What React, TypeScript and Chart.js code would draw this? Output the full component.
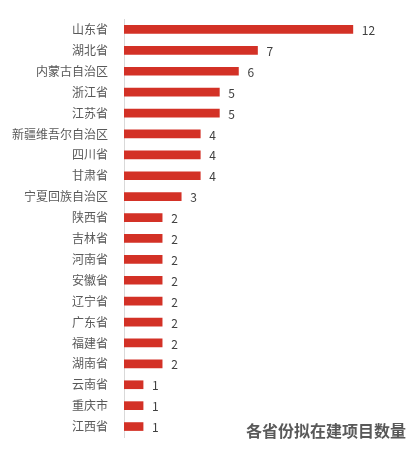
import React, { useEffect, useRef } from "react";
import { Chart, registerables } from "chart.js";

Chart.register(...registerables);

const provinces = [
  "山东省", "湖北省", "内蒙古自治区", "浙江省", "江苏省", "新疆维吾尔自治区", "四川省", "甘肃省",
  "宁夏回族自治区", "陕西省", "吉林省", "河南省", "安徽省", "辽宁省", "广东省", "福建省",
  "湖南省", "云南省", "重庆市", "江西省",
];
const projectCounts = [12, 7, 6, 5, 5, 4, 4, 4, 3, 2, 2, 2, 2, 2, 2, 2, 2, 1, 1, 1];
const chartTitle = "各省份拟在建项目数量";

const FONT = "'Noto Sans CJK SC', 'Noto Sans', sans-serif";

const valueLabels = {
  id: "valueLabels",
  afterDatasetsDraw(chart: any) {
    const ctx = chart.ctx;
    const meta = chart.getDatasetMeta(0);
    ctx.save();
    ctx.font = `12px ${FONT}`;
    ctx.fillStyle = "#404040";
    ctx.textAlign = "left";
    ctx.textBaseline = "middle";
    meta.data.forEach((bar: any, i: number) => {
      ctx.fillText(String(chart.data.datasets[0].data[i]), bar.x + 9, bar.y + 1);
    });
    ctx.restore();
  },
};

const cornerTitle = {
  id: "cornerTitle",
  afterDraw(chart: any) {
    const ctx = chart.ctx;
    ctx.save();
    ctx.font = `bold 16px ${FONT}`;
    ctx.fillStyle = "#595959";
    ctx.textAlign = "right";
    ctx.textBaseline = "middle";
    ctx.fillText(chartTitle, 406, 431);
    ctx.restore();
  },
};

export default function App() {
  const ref = useRef<HTMLCanvasElement>(null);
  useEffect(() => {
    if (!ref.current) return;
    const chart = new Chart(ref.current, {
      type: "bar",
      data: {
        labels: provinces,
        datasets: [
          {
            data: projectCounts,
            backgroundColor: "#d33126",
            barThickness: 8,
          },
        ],
      },
      options: {
        indexAxis: "y",
        animation: false,
        responsive: false,
        layout: { padding: { top: 19, bottom: 21, left: 0, right: 25 } },
        plugins: { legend: { display: false }, tooltip: { enabled: false }, title: { display: false } },
        scales: {
          x: {
            display: false,
            min: 0,
            max: 14,
          },
          y: {
            grid: { display: false },
            border: { display: true, color: "#d9d9d9", width: 1 },
            ticks: {
              color: "#595959",
              padding: 8,
              font: { size: 12, family: FONT },
            },
            afterFit(scale: any) {
              scale.width = 124;
            },
          },
        },
      },
      plugins: [valueLabels, cornerTitle],
    });
    return () => chart.destroy();
  }, []);
  return (
    <div style={{ position: "fixed", left: 0, top: 0, width: 416, height: 458, background: "#fff" }}>
      <canvas ref={ref} width={416} height={458} style={{ width: 416, height: 458 }} />
    </div>
  );
}
